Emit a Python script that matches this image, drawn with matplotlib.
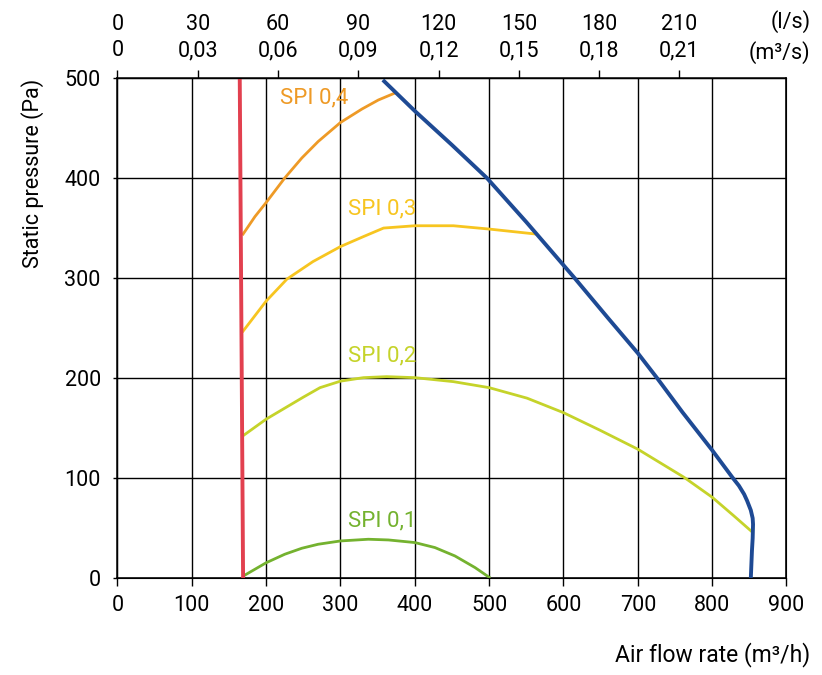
import numpy as np
import matplotlib.pyplot as plt

plt.rcParams['font.family'] = ['Roboto', 'DejaVu Sans']

# boundary lines (m3/h, Pa)
min_x = [169, 164.5]
min_y = [0, 500]

max_x = [357, 400, 450, 497, 550, 615, 660, 700, 726, 760, 800, 827, 836, 843, 847, 852, 854.5, 855, 854.5, 853.5, 852]
max_y = [498, 467, 433, 400, 356, 300, 260, 225, 200, 166, 128, 101, 92.5, 84, 77.5, 68, 60, 54, 40, 27, 0]

# SPI curves
spi4_x = [169, 185, 200, 225, 248, 270, 300, 329, 351, 373.5]
spi4_y = [344, 361.5, 375.5, 400, 420, 436.5, 455.5, 469, 478, 485]

spi3_x = [169, 200, 228, 263, 300, 331, 358, 400, 452, 500, 563]
spi3_y = [247, 277, 299, 316.5, 331.5, 341.5, 350, 352.3, 352.3, 349, 344]

spi2_x = [170, 200, 250, 272.5, 300, 331, 362, 400, 452, 500, 551, 600, 649, 700, 762, 800, 829, 852]
spi2_y = [143, 159, 181, 190.5, 197, 200.5, 201.5, 200.5, 196.5, 190.5, 180, 165.5, 148, 129, 101, 81, 62.5, 47.5]

spi1_x = [171, 200, 225, 248, 270, 300, 337.5, 364.5, 400, 427, 454, 481, 500]
spi1_y = [3, 15.5, 24, 30, 34, 37.3, 39, 38.3, 35.7, 30.7, 22.3, 10.7, 1]

x_ticks = [0, 100, 200, 300, 400, 500, 600, 700, 800, 900]
y_ticks = [0, 100, 200, 300, 400, 500]
ls_ticks = [0, 30, 60, 90, 120, 150, 180, 210]
m3s_labels = ['0', '0,03', '0,06', '0,09', '0,12', '0,15', '0,18', '0,21']

c_red = '#E2404F'
c_blue = '#1E4A94'
c_orange = '#EE9A26'
c_yellow = '#F7C520'
c_ygreen = '#C5D32A'
c_green = '#74B22F'

fig = plt.figure(figsize=(8.22, 6.75), dpi=100)
ax = fig.add_axes([0.1429, 0.1433, 0.8139, 0.7412])

ax.plot(spi4_x, spi4_y, color=c_orange, lw=2.0, zorder=3)
ax.plot(spi3_x, spi3_y, color=c_yellow, lw=2.0, zorder=3)
ax.plot(spi2_x, spi2_y, color=c_ygreen, lw=2.0, zorder=3)
ax.plot(spi1_x, spi1_y, color=c_green, lw=2.0, zorder=3)
ax.plot(max_x, max_y, color=c_blue, lw=2.8, zorder=4, solid_capstyle='butt')
ax.plot(min_x, min_y, color=c_red, lw=2.8, zorder=4, solid_capstyle='butt')

ax.text(219, 480, 'SPI 0,4', color=c_orange, fontsize=16, va='center')
ax.text(310, 369, 'SPI 0,3', color=c_yellow, fontsize=16, va='center')
ax.text(310, 222, 'SPI 0,2', color=c_ygreen, fontsize=16, va='center')
ax.text(310, 57, 'SPI 0,1', color=c_green, fontsize=16, va='center')

ax.set_xlim(0, 900)
ax.set_ylim(0, 500)
ax.set_xticks(x_ticks)
ax.set_yticks(y_ticks)
ax.grid(True, color='black', lw=1.0)
ax.set_axisbelow(True)
for s in ax.spines.values():
    s.set_linewidth(1.1)
ax.tick_params(axis='x', length=6, width=1.0, pad=6, labelsize=15.5)
ax.tick_params(axis='y', length=3, width=1.0, pad=9, labelsize=15.5)

ax2 = ax.twiny()
ax2.set_xlim(0, 900)
ax2.set_xticks([v * 3.6 for v in ls_ticks])
ax2.set_xticklabels([f'{a}\n{b}' for a, b in zip(ls_ticks, m3s_labels)], linespacing=1.3)
ax2.tick_params(axis='x', length=6, width=1.0, pad=6, labelsize=15.5)

fig.text(0.986, 1 - 22 / 675, '(l/s)', fontsize=15.5, ha='right', va='center')
fig.text(0.986, 1 - 53 / 675, '(m³/s)', fontsize=15.5, ha='right', va='center')
fig.text(0.986, 1 - 655 / 675, 'Air flow rate (m³/h)', fontsize=16.5, ha='right', va='center')
fig.text(33 / 822, 1 - 173.5 / 675, 'Static pressure (Pa)', fontsize=15.5, rotation=90,
         ha='center', va='center')

fig.savefig('out.png', dpi=100)
